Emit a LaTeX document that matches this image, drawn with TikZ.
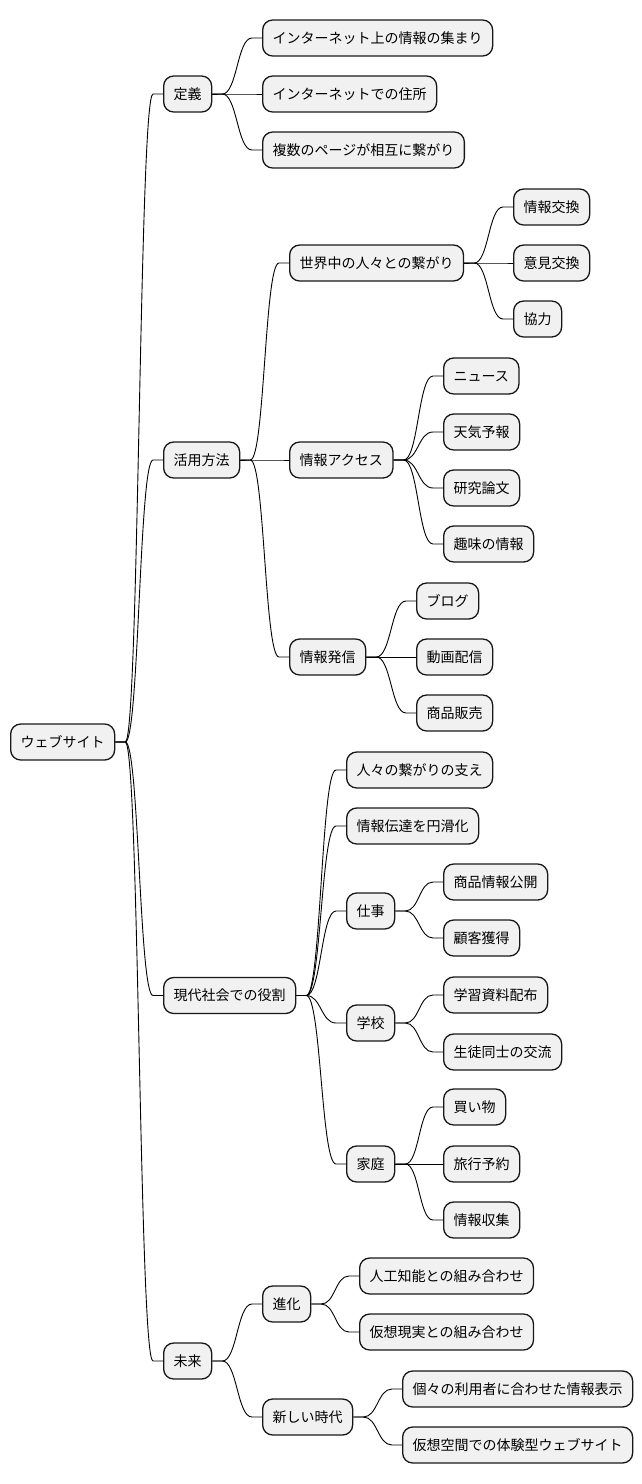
\documentclass[tikz,border=0pt]{standalone}
\usepackage{fontspec}
\newfontfamily\jp{Noto Sans CJK JP}
\usetikzlibrary{calc}
\definecolor{boxfill}{HTML}{F1F1F1}
\definecolor{boxline}{HTML}{181818}
\tikzset{
  mm/.style={draw=boxline, fill=boxfill, line width=1.3pt, rounded corners=10pt,
    anchor=west, minimum height=36pt, inner xsep=10pt, inner ysep=0pt,
    text height=12.3pt, text depth=1.7pt,
    font=\jp\fontsize{14pt}{17pt}\selectfont},
  link/.style={draw=black, line width=0.9pt}
}
\newcommand{\conn}[2]{%
  \draw[link] let \p1=(#1.east), \p2=(#2.west), \p3=($(#1.east)!0.5!(#2.west)$) in
    (\p1) -- (\x1+10pt,\y1) .. controls (\x3,\y1) and (\x3,\y2) .. (\x2-10pt,\y2) -- (\p2);}
\begin{document}
\begin{tikzpicture}[x=1pt,y=-1pt]
\useasboundingbox (0,0) rectangle (642,1484);
% root
\node[mm] (r) at (10,742) {ウェブサイト};
% level 1
\node[mm] (a) at (163,94) {定義};
\node[mm] (b) at (163,460) {活用方法};
\node[mm] (c) at (163,995.5) {現代社会での役割};
\node[mm] (d) at (163,1361) {未来};
% 定義
\node[mm] (a1) at (262,38) {インターネット上の情報の集まり};
\node[mm] (a2) at (262,94) {インターネットでの住所};
\node[mm] (a3) at (262,150) {複数のページが相互に繋がり};
% 活用方法
\node[mm] (b1) at (289,263) {世界中の人々との繋がり};
\node[mm] (b2) at (289,460) {情報アクセス};
\node[mm] (b3) at (289,657) {情報発信};
\node[mm] (b11) at (513,207) {情報交換};
\node[mm] (b12) at (513,263) {意見交換};
\node[mm] (b13) at (513,319) {協力};
\node[mm] (b21) at (443,376) {ニュース};
\node[mm] (b22) at (443,432) {天気予報};
\node[mm] (b23) at (443,488) {研究論文};
\node[mm] (b24) at (443,544) {趣味の情報};
\node[mm] (b31) at (416,601) {ブログ};
\node[mm] (b32) at (416,657) {動画配信};
\node[mm] (b33) at (416,713) {商品販売};
% 現代社会での役割
\node[mm] (c1) at (346,770) {人々の繋がりの支え};
\node[mm] (c2) at (346,826) {情報伝達を円滑化};
\node[mm] (c3) at (346,911) {仕事};
\node[mm] (c4) at (346,1023) {学校};
\node[mm] (c5) at (346,1164) {家庭};
\node[mm] (c31) at (443,882) {商品情報公開};
\node[mm] (c32) at (443,938) {顧客獲得};
\node[mm] (c41) at (443,995) {学習資料配布};
\node[mm] (c42) at (443,1052) {生徒同士の交流};
\node[mm] (c51) at (443,1107) {買い物};
\node[mm] (c52) at (443,1164) {旅行予約};
\node[mm] (c53) at (443,1220) {情報収集};
% 未来
\node[mm] (d1) at (262,1304) {進化};
\node[mm] (d2) at (262,1417) {新しい時代};
\node[mm] (d11) at (359,1276) {人工知能との組み合わせ};
\node[mm] (d12) at (359,1332) {仮想現実との組み合わせ};
\node[mm] (d21) at (402,1389) {個々の利用者に合わせた情報表示};
\node[mm] (d22) at (402,1445) {仮想空間での体験型ウェブサイト};
% connectors
\conn{r}{a}\conn{r}{b}\conn{r}{c}\conn{r}{d}
\conn{a}{a1}\conn{a}{a2}\conn{a}{a3}
\conn{b}{b1}\conn{b}{b2}\conn{b}{b3}
\conn{b1}{b11}\conn{b1}{b12}\conn{b1}{b13}
\conn{b2}{b21}\conn{b2}{b22}\conn{b2}{b23}\conn{b2}{b24}
\conn{b3}{b31}\conn{b3}{b32}\conn{b3}{b33}
\conn{c}{c1}\conn{c}{c2}\conn{c}{c3}\conn{c}{c4}\conn{c}{c5}
\conn{c3}{c31}\conn{c3}{c32}
\conn{c4}{c41}\conn{c4}{c42}
\conn{c5}{c51}\conn{c5}{c52}\conn{c5}{c53}
\conn{d}{d1}\conn{d}{d2}
\conn{d1}{d11}\conn{d1}{d12}
\conn{d2}{d21}\conn{d2}{d22}
\end{tikzpicture}
\end{document}
